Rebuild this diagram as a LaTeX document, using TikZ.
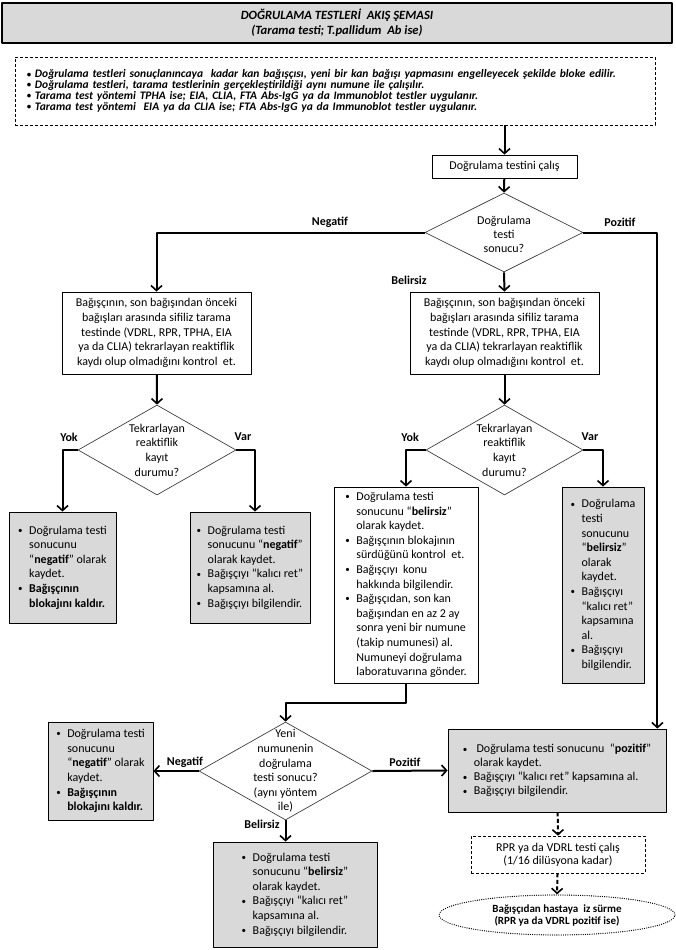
\documentclass[tikz,border=0pt]{standalone}
\usepackage{fontspec}
\setmainfont{Carlito}
\usetikzlibrary{shapes.geometric,arrows.meta}
\definecolor{kutu}{HTML}{D9D9D9}
\newcommand\mad[1][11pt]{\makebox[#1][l]{\raisebox{.8pt}{\scalebox{.75}{\textbullet}}}}
\newcommand\gir{\hspace*{11pt}}
\begin{document}
\begin{tikzpicture}[x=1pt,y=-1pt,line join=round,font=\fontsize{12}{14.6}\selectfont,
  kutuk/.style={draw,line width=.8pt,inner sep=0pt,align=left},
  gkutu/.style={kutuk,fill=kutu},
  karar/.style={draw=black!75,line width=.7pt,diamond,inner sep=0pt},
  ok/.style={line width=2pt,-{Straight Barb[length=5pt,width=11pt,line width=1.6pt]}},
  kesik/.style={ok,dash pattern=on 4pt off 2.5pt},
  etiket/.style={font=\fontsize{12}{14}\selectfont\bfseries}]
\useasboundingbox (0,0) rectangle (676,950);
\node[gkutu,line width=1.4pt,align=center,minimum width=670,minimum height=40,
  font=\fontsize{12.6}{15}\selectfont\bfseries\itshape] (baslik) at (337,23)
  {DOĞRULAMA TESTLERİ\ \ AKIŞ ŞEMASI\\(Tarama testi; T.pallidum\ \ Ab ise)};
\node[kutuk,line width=.6pt,dash pattern=on 3pt off 2pt,minimum width=640,minimum height=68,
  text width=616pt,font=\fontsize{11.5}{10.8}\selectfont\bfseries\itshape] (bilgi) at (335,91)
  {\mad[8pt]Doğrulama testleri sonuçlanıncaya\ \ kadar kan bağışçısı, yeni bir kan bağışı yapmasını engelleyecek şekilde bloke edilir.\\
   \mad[8pt]Doğrulama testleri, tarama testlerinin gerçekleştirildiği aynı numune ile çalışılır.\\
   \mad[8pt]Tarama test yöntemi TPHA ise; EIA, CLIA, FTA Abs-IgG ya da Immunoblot testler uygulanır.\\
   \mad[8pt]Tarama test yöntemi\ \ EIA ya da CLIA ise; FTA Abs-IgG ya da Immunoblot testler uygulanır.};
\node[kutuk,minimum width=145,minimum height=23] (calis) at (504.5,166.5) {Doğrulama testini çalış};
\node[karar,minimum width=158,minimum height=79] (k1) at (504,232.5) {};
\node[align=center,font=\fontsize{12}{14}\selectfont] (k1t) at (504,234) {Doğrulama\\testi\\sonucu?};
\node[kutuk,align=center,minimum width=189,minimum height=82] (sol) at (156.5,333)
  {Bağışçının, son bağışından önceki\\bağışları arasında sifiliz tarama\\testinde (VDRL, RPR, TPHA, EIA\\ya da CLIA) tekrarlayan reaktiflik\\kaydı olup olmadığını kontrol\ \ et.};
\node[kutuk,align=center,minimum width=189,minimum height=82] (sag) at (504.5,333)
  {Bağışçının, son bağışından önceki\\bağışları arasında sifiliz tarama\\testinde (VDRL, RPR, TPHA, EIA\\ya da CLIA) tekrarlayan reaktiflik\\kaydı olup olmadığını kontrol\ \ et.};
\node[karar,minimum width=158,minimum height=90] (k2) at (157,450) {};
\node[align=center] (k2t) at (157,450) {Tekrarlayan\\reaktiflik\\kayıt\\durumu?};
\node[karar,minimum width=157,minimum height=90] (k2r) at (504.5,450) {};
\node[align=center] (k2rt) at (504.5,450) {Tekrarlayan\\reaktiflik\\kayıt\\durumu?};
\node[gkutu,minimum width=107,minimum height=111] (negK) at (62.5,567.5)
  {\mad Doğrulama testi\\\gir sonucunu\\\gir “\textbf{negatif}” olarak\\\gir kaydet.\\\mad\textbf{Bağışçının}\\\gir\textbf{blokajını kaldır.}};
\node[gkutu,minimum width=120,minimum height=111] (varK) at (250,567.5)
  {\mad Doğrulama testi\\\gir sonucunu “\textbf{negatif}”\\\gir olarak kaydet.\\\mad Bağışçıyı “kalıcı ret”\\\gir kapsamına al.\\\mad Bağışçıyı bilgilendir.};
\node[kutuk,minimum width=144,minimum height=196] (bel) at (406,585)
  {\mad Doğrulama testi\\\gir sonucunu “\textbf{belirsiz}”\\\gir olarak kaydet.\\\mad Bağışçının blokajının\\\gir sürdüğünü kontrol\ \ et.\\\mad Bağışçıyı\ \ konu\\\gir hakkında bilgilendir.\\\mad Bağışçıdan, son kan\\\gir bağışından en az 2 ay\\\gir sonra yeni bir numune\\\gir (takip numunesi) al.\\\gir Numuneyi doğrulama\\\gir laboratuvarına gönder.};
\node[gkutu,minimum width=82,minimum height=196] (belK) at (603,585)
  {\mad Doğrulama\\\gir testi\\\gir sonucunu\\\gir “\textbf{belirsiz}”\\\gir olarak\\\gir kaydet.\\\mad Bağışçıyı\\\gir “kalıcı ret”\\\gir kapsamına\\\gir al.\\\mad Bağışçıyı\\\gir bilgilendir.};
\node[karar,minimum width=173,minimum height=98] (k3) at (285.5,771) {};
\node[align=center] (k3t) at (285.5,771) {Yeni\\numunenin\\doğrulama\\testi sonucu?\\(aynı yöntem\\ile)};
\node[gkutu,minimum width=105,minimum height=98] (negB) at (100.5,771)
  {\mad Doğrulama testi\\\gir sonucunu\\\gir “\textbf{negatif}” olarak\\\gir kaydet.\\\mad\textbf{Bağışçının}\\\gir\textbf{blokajını kaldır.}};
\node[gkutu,minimum width=218,minimum height=83,font=\fontsize{12}{14}\selectfont] (poz) at (557,770.5)
  {\mad\ Doğrulama testi sonucunu\ \ “\textbf{pozitif}”\\\gir olarak kaydet.\\\mad Bağışçıyı “kalıcı ret” kapsamına al.\\\mad Bağışçıyı bilgilendir.};
\node[gkutu,minimum width=164,minimum height=105] (belB) at (295,894.5)
  {\mad Doğrulama testi\\\gir sonucunu “\textbf{belirsiz}”\\\gir olarak kaydet.\\\mad Bağışçıyı “kalıcı ret”\\\gir kapsamına al.\\\mad Bağışçıyı bilgilendir.};
\node[kutuk,line width=.6pt,dash pattern=on 3pt off 2pt,align=center,minimum width=174,minimum height=37,
  font=\fontsize{12}{13}\selectfont] (rpr) at (558,854.5)
  {RPR ya da VDRL testi çalış\\(1/16 dilüsyona kadar)};
\node[ellipse,draw,line width=1.3pt,dash pattern=on 0pt off 2.2pt,line cap=round,inner sep=0pt,align=center,
  minimum width=236,minimum height=40,font=\fontsize{11}{12}\selectfont\bfseries] (iz) at (557,915)
  {Bağışçıdan hastaya\ \ iz sürme\\(RPR ya da VDRL pozitif ise)};
\draw[ok] (bilgi.south -| calis.north) -- (calis.north);
\draw[ok] (calis) -- (k1.north);
\draw[ok] (k1.west) -| (sol.north);
\draw[ok] (k1.south) -- (sag.north);
\draw[ok] (k1.east) -| ([xshift=-9pt]poz.north east);
\draw[ok] (sol) -- (k2.north);
\draw[ok] (sag) -- (k2r.north);
\draw[ok] (k2.west) -| (negK.north);
\draw[ok] (k2.east) -| ([xshift=5pt]varK.north);
\draw[ok] (k2r.west) -| (bel.north);
\draw[ok] (k2r.east) -| (belK.north);
\draw[ok] (bel.south) |- ([yshift=19pt]k3.north) -- (k3.north);
\draw[ok] (k3.west) -- (negB.east);
\draw[ok] (k3.east) -- (poz.west);
\draw[ok] (k3.south) -- (k3.south |- belB.north);
\draw[kesik] (poz) -- (rpr.north);
\draw[kesik] (rpr) -- (iz.north);
\node[etiket] (e1) at (330,222) {Negatif};
\node[etiket] (e2) at (620,222) {Pozitif};
\node[etiket] (e3) at (409,280) {Belirsiz};
\node[etiket] (e4) at (69,437) {Yok};
\node[etiket] (e5) at (243,437) {Var};
\node[etiket] (e6) at (410,437) {Yok};
\node[etiket] (e7) at (590,437) {Var};
\node[etiket] (e8) at (185,762) {Negatif};
\node[etiket] (e9) at (405,762) {Pozitif};
\node[etiket] (e10) at (262,824) {Belirsiz};
\end{tikzpicture}
\end{document}
